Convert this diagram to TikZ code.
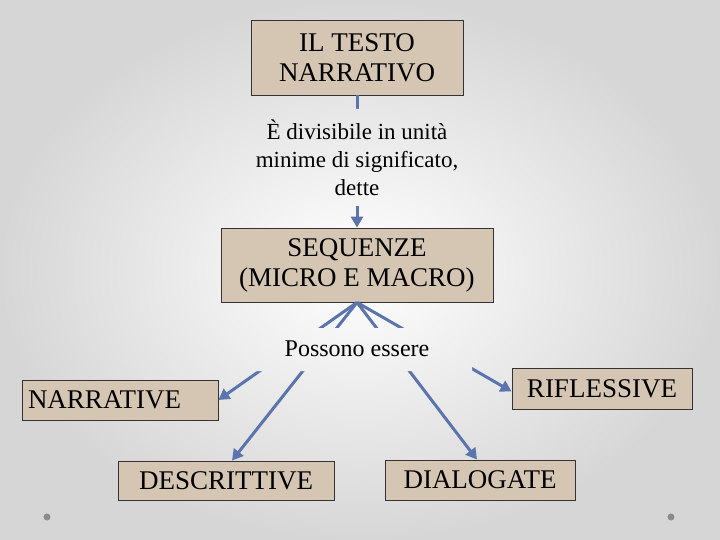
\documentclass[tikz,border=0pt]{standalone}
\usepackage{fontspec}
\setmainfont{Liberation Serif}
\usetikzlibrary{arrows.meta}
\definecolor{boxfill}{HTML}{D5C6B4}
\definecolor{arr}{HTML}{5B74AE}
\begin{document}
\begin{tikzpicture}[x=1pt,y=-1pt,
  bx/.style={draw=black!80,line width=0.8pt,fill=boxfill,align=center,inner sep=0pt,font=\fontsize{27}{30}\selectfont},
  lab/.style={align=center,inner sep=2pt,font=\fontsize{24}{27}\selectfont},
  ar/.style={draw=arr,line width=3pt,-{Triangle[length=11pt,width=12pt]}}]
\tikzset{bgshade/.style={inner color=white,outer color=black!16}}
\shade[bgshade] (0,0) rectangle (720,540);
\useasboundingbox (0,0) rectangle (720,540);
\fill[black!45] (47,517) circle (3.5);
\fill[black!45] (671,517) circle (3.5);
\node[bx,minimum width=212pt,minimum height=75pt] (top) at (357,57.5) {IL TESTO\\NARRATIVO};
\node[bx,minimum width=272pt,minimum height=74pt] (seq) at (357,265) {SEQUENZE\\(MICRO E MACRO)};
\node[bx,minimum width=196pt,minimum height=40pt,text width=184pt,align=left] (nar) at (120,400) {NARRATIVE};
\node[bx,minimum width=180pt,minimum height=41pt] (rif) at (602,388.5) {RIFLESSIVE};
\node[bx,minimum width=216pt,minimum height=39pt] (des) at (226,480.5) {DESCRITTIVE};
\node[bx,minimum width=190pt,minimum height=40pt] (dia) at (480,480) {DIALOGATE};
\draw[ar] (top.south) -- (seq.north);
\draw[ar] (seq.south) -- (nar.east);
\draw[ar] (seq.south) -- ([xshift=6pt]des.north);
\draw[ar] (seq.south) -- ([xshift=-3pt]dia.north);
\draw[ar] (seq.south) -- ([yshift=-3pt]rif.west);
\begin{scope}
\clip (239,109) rectangle (475,206) (242,328) rectangle (472,371);
\shade[bgshade] (0,0) rectangle (720,540);
\end{scope}
\node[lab,font=\fontsize{23}{28}\selectfont] (l1) at (357,158) {È divisibile in unità\\minime di significato,\\dette};
\node[lab] (l2) at (357,349) {Possono essere};
\end{tikzpicture}
\end{document}
